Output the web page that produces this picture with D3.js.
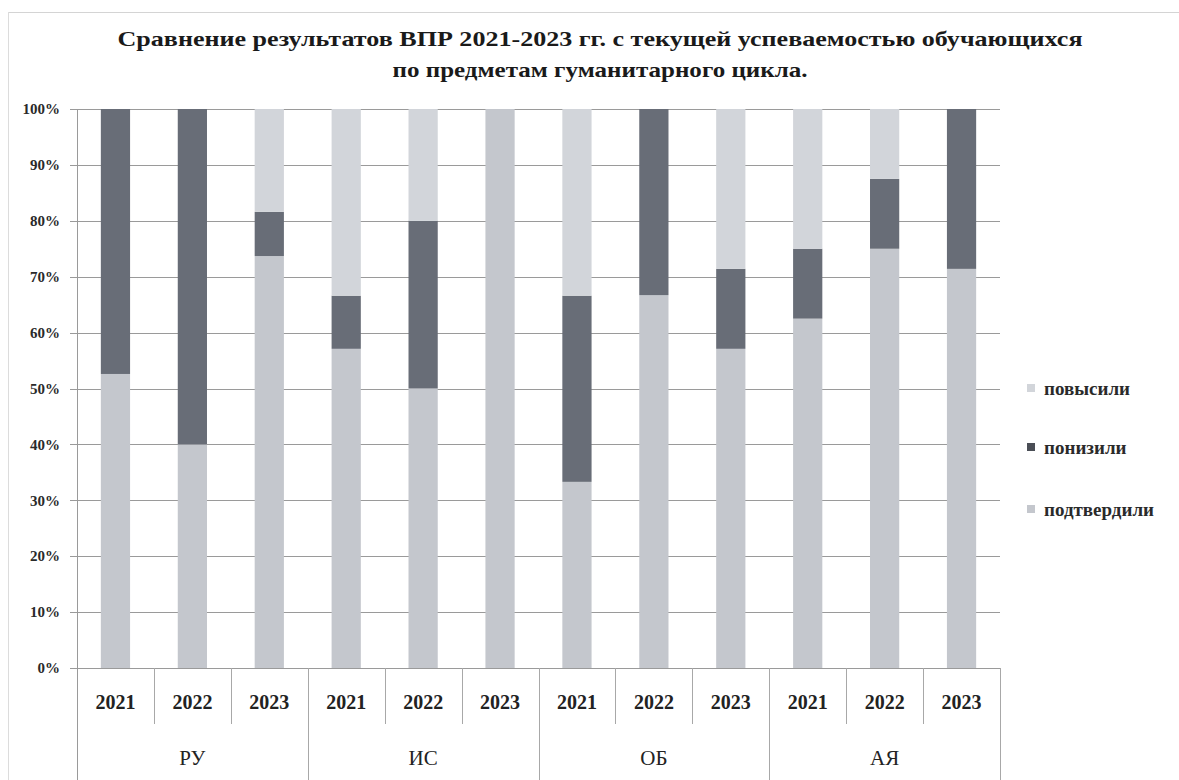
<!DOCTYPE html>
<html><head><meta charset="utf-8">
<script src="https://cdn.jsdelivr.net/npm/d3@7"></script>
<style>
body{margin:0;background:#fff}
svg{display:block}
</style>
</head><body>
<svg id="c" width="1179" height="780"></svg>
<script>
const groups = ["РУ", "ИС", "ОБ", "АЯ"];
const years = ["2021", "2022", "2023"];
const seriesNames = ["подтвердили", "понизили", "повысили"];
const podtverdili = [52.6, 40, 73.7, 57.1, 50, 100, 33.3, 66.7, 57.1, 62.5, 75, 71.4];
const ponizili   = [47.4, 60, 7.9, 9.5, 30, 0, 33.3, 33.3, 14.3, 12.5, 12.5, 28.6];
const povysili   = [0, 0, 18.4, 33.4, 20, 0, 33.4, 0, 28.6, 25, 12.5, 0];
const yTicks = [0, 10, 20, 30, 40, 50, 60, 70, 80, 90, 100];
const titleLines = ["Сравнение результатов ВПР 2021-2023 гг. с текущей успеваемостью обучающихся",
                    "по предметам  гуманитарного цикла."];

const colors = {"подтвердили": "#c4c7cd", "понизили": "#686d77", "повысили": "#d2d5da"};

// pick an installed serif face if any
function pickFont() {
  const c = document.createElement("canvas").getContext("2d");
  const s = "Сравнение результатов 2021 mmmWWWiii";
  const cands = ["Liberation Serif", "DejaVu Serif", "Tinos", "Noto Serif", "Times New Roman", "FreeSerif", "Nimbus Roman", "Noto Serif CJK SC"];
  for (const f of cands) {
    let ok = false;
    for (const base of ["monospace", "sans-serif"]) {
      c.font = `bold 30px ${base}`; const w0 = c.measureText(s).width;
      c.font = `bold 30px "${f}", ${base}`; const w1 = c.measureText(s).width;
      if (Math.abs(w1 - w0) > 0.5) ok = true;
    }
    if (ok) return `"${f}", serif`;
  }
  return "serif";
}
const FONT = pickFont();

const rows = [];
groups.forEach((g, gi) => years.forEach((y, yi) => {
  const i = gi * 3 + yi;
  rows.push({key: i, group: g, year: y,
    "подтвердили": podtverdili[i], "понизили": ponizili[i], "повысили": povysili[i]});
}));

const svg = d3.select("#c").style("font-family", FONT);
const L = 77, R = 1000, T = 109, B = 668;
const x = d3.scaleBand().domain(rows.map(d => d.key)).range([L, R]).paddingInner(0.62).paddingOuter(0.31);
const y = d3.scaleLinear().domain([0, 100]).range([B, T]);
const step = x.step();

// chart border (faint)
svg.append("line").attr("x1", 8).attr("x2", 1179).attr("y1", 12.5).attr("y2", 12.5).attr("stroke", "#d4d4d4");
svg.append("line").attr("x1", 8.5).attr("x2", 8.5).attr("y1", 12).attr("y2", 780).attr("stroke", "#dcdcdc");

// title
const titleW = [965, 415];
svg.append("g").selectAll("text").data(titleLines).join("text")
  .attr("x", 600).attr("y", (d, i) => 46 + i * 31)
  .attr("text-anchor", "middle").attr("font-weight", "bold")
  .attr("font-size", 22).attr("fill", "#1a1a1a")
  .attr("textLength", (d, i) => titleW[i]).attr("lengthAdjust", "spacingAndGlyphs")
  .text(d => d);

// gridlines + y labels
const gy = svg.append("g");
gy.selectAll("line").data(yTicks).join("line")
  .attr("x1", L - 7).attr("x2", R).attr("y1", d => Math.round(y(d)) + 0.5).attr("y2", d => Math.round(y(d)) + 0.5)
  .attr("stroke", "#9a9a9a").attr("stroke-width", 1);
gy.selectAll("text").data(yTicks).join("text")
  .attr("x", 60).attr("y", d => y(d)).attr("dy", "0.35em").attr("text-anchor", "end")
  .attr("font-weight", "bold").attr("font-size", 15).attr("fill", "#2a2a2a")
  .text(d => d + "%");

// bars
const stack = d3.stack().keys(seriesNames)(rows);
svg.append("g").selectAll("g").data(stack).join("g").attr("fill", s => colors[s.key])
  .selectAll("rect").data(s => s).join("rect")
  .attr("x", d => x(d.data.key)).attr("width", x.bandwidth())
  .attr("y", d => y(d[1])).attr("height", d => y(d[0]) - y(d[1]));

// axes lines
svg.append("line").attr("x1", L + 0.5).attr("x2", L + 0.5).attr("y1", T).attr("y2", 780).attr("stroke", "#9a9a9a");
svg.append("line").attr("x1", L).attr("x2", R).attr("y1", B + 0.5).attr("y2", B + 0.5).attr("stroke", "#9a9a9a");

// category separators
const seps = d3.range(1, rows.length + 1);
svg.append("g").selectAll("line").data(seps).join("line")
  .attr("x1", i => Math.round(L + i * step) + 0.5).attr("x2", i => Math.round(L + i * step) + 0.5)
  .attr("y1", B).attr("y2", i => (i % 3 === 0 ? 780 : 724))
  .attr("stroke", "#a8a8a8");

// year labels
svg.append("g").selectAll("text").data(rows).join("text")
  .attr("x", d => x(d.key) + x.bandwidth() / 2).attr("y", 702).attr("dy", "0.35em")
  .attr("text-anchor", "middle").attr("font-weight", "bold")
  .attr("font-size", 20).attr("fill", "#222").text(d => d.year);

// group labels
svg.append("g").selectAll("text").data(groups).join("text")
  .attr("x", (g, gi) => L + (gi * 3 + 1.5) * step).attr("y", 758).attr("dy", "0.35em")
  .attr("text-anchor", "middle")
  .attr("font-size", 21).attr("fill", "#222").text(d => d);

// legend
const legendOrder = ["повысили", "понизили", "подтвердили"];
const lg = svg.append("g").selectAll("g").data(legendOrder).join("g")
  .attr("transform", (d, i) => `translate(1027,${[389, 448, 510][i]})`);
lg.append("rect").attr("x", 0).attr("y", -5).attr("width", 8).attr("height", 8)
  .attr("fill", d => d === "понизили" ? "#4a4e56" : colors[d]);
lg.append("text").attr("x", 17).attr("dy", "0.3em").attr("font-weight", "bold")
  .attr("font-size", 19).attr("fill", "#2a2a2a").text(d => d);
</script>
</body></html>
